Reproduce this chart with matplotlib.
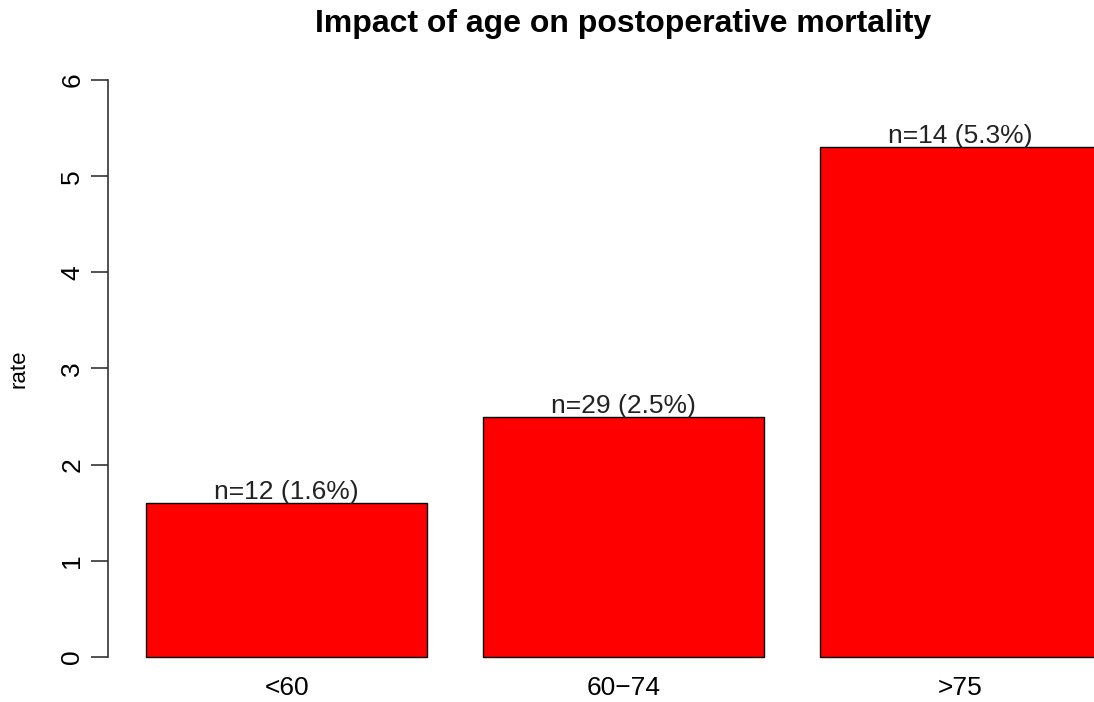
import matplotlib
matplotlib.use("Agg")
import matplotlib.pyplot as plt

# data
groups = ["<60", "60\u221274", ">75"]
rates = [1.6, 2.5, 5.3]
counts = [12, 29, 14]
yticks = [0, 1, 2, 3, 4, 5, 6]

plt.rcParams['font.family'] = ['Liberation Sans', 'DejaVu Sans']

fig = plt.figure(figsize=(10.94, 7.02), dpi=100)
# plot region runs past the right edge, like the cropped original
ax = fig.add_axes([108 / 1094, 22 / 702, 1031 / 1094, 623 / 702])

# R barplot style positions: width 1, space 0.2
xpos = [0.2 + 1.2 * i + 0.5 for i in range(len(groups))]
ax.bar(xpos, rates, width=1.0, color="#ff0000", edgecolor="black", linewidth=1.0)

for x, r, n in zip(xpos, rates, counts):
    ax.text(x, r - 0.01, "n=%d (%.1f%%)" % (n, r), ha="center", va="bottom",
            fontsize=19, color="#222222")

ax.set_xlim(0.064, 3.736)
ax.set_ylim(-0.24, 6.24)

ax.set_xticks(xpos)
ax.set_xticklabels(groups, fontsize=19)
ax.tick_params(axis="x", length=0, pad=-3)

ax.set_yticks(yticks)
ax.set_yticklabels([str(t) for t in yticks], fontsize=19, rotation=90, va="center")
ax.tick_params(axis="y", length=12, width=1.2, pad=5, color="#333333")

for s in ["top", "right", "bottom"]:
    ax.spines[s].set_visible(False)
ax.spines["left"].set_bounds(0, 6)
ax.spines["left"].set_linewidth(1.2)
ax.spines["left"].set_color("#333333")

ax.set_ylabel("rate", fontsize=16)
ax.yaxis.set_label_coords(-78 / 1031, 0.5)
fig.text(623 / 1094, 1 - 24 / 702, "Impact of age on postoperative mortality",
         ha="center", va="center", fontsize=23, fontweight="bold")

fig.savefig("out.png", dpi=100)
